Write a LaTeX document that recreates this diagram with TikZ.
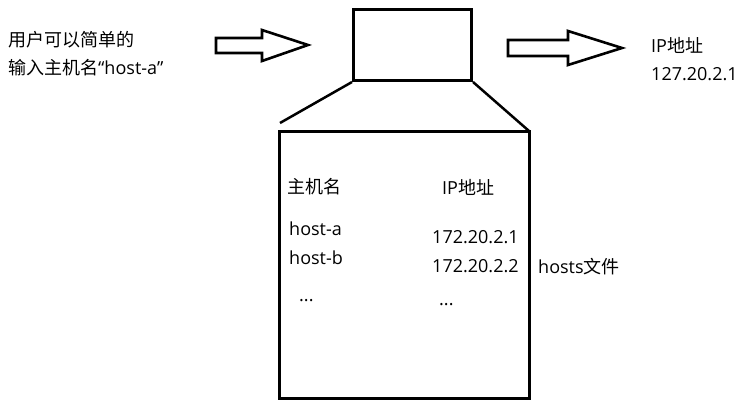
\documentclass[tikz,border=0pt]{standalone}
\usepackage{fontspec}
\setmainfont{Open Sans}
\newfontfamily\cjk{Noto Sans CJK SC}
\begin{document}
\begin{tikzpicture}[x=1pt,y=-1pt,
  txt/.style={anchor=west,inner sep=0pt,font=\fontsize{18}{21}\selectfont},
  boxline/.style={line width=3pt},
  blockarrow/.style={line width=2.6pt,line join=miter,fill=white}]
\useasboundingbox[fill=white] (0,0) rectangle (742,409);
% top computer box
\node[draw,boxline,minimum width=118pt,minimum height=71pt,inner sep=0pt,anchor=north west] (top) at (352,8) {};
% hosts file box
\node[draw,boxline,minimum width=250pt,minimum height=267pt,inner sep=0pt,anchor=north west] (file) at (278,130) {};
\coordinate (lend) at (280,123);
\coordinate (rend) at (529,131);
\draw[line width=2.5pt] (top.south west) -- (lend);
\draw[line width=2.5pt] (top.south east) -- (rend);
\draw[line width=2.5pt] (rend) -- ++(0,5);
% block arrows
\draw[blockarrow] (216,38) -- (262,38) -- (262,30) -- (308,45) -- (262,61) -- (262,53) -- (216,53) -- cycle;
\draw[blockarrow] (508,40) -- (568,40) -- (568,31) -- (622,48) -- (568,65) -- (568,56) -- (508,56) -- cycle;
% texts
\node[txt] (u1) at (8,40) {\cjk 用户可以简单的};
\node[txt] (u2) at (8,68) {{\cjk 输入主机名}“host-a”};
\node[txt] (ip) at (651,45) {IP{\cjk 地址}};
\node[txt] (ipv) at (651,74) {127.20.2.1};
\node[txt] (h1) at (287,187) {\cjk 主机名};
\node[txt] (h2) at (442,187) {IP{\cjk 地址}};
\node[txt] (ha) at (289,229) {host-a};
\node[txt] (hb) at (289,258) {host-b};
\node[txt] (ia) at (432,237) {172.20.2.1};
\node[txt] (ib) at (432,266) {172.20.2.2};
\node[txt] (hf) at (538,267) {hosts{\cjk 文件}};
\node[txt] (d1) at (299,301) {...};
\node[txt] (d2) at (439,305) {...};
\end{tikzpicture}
\end{document}
